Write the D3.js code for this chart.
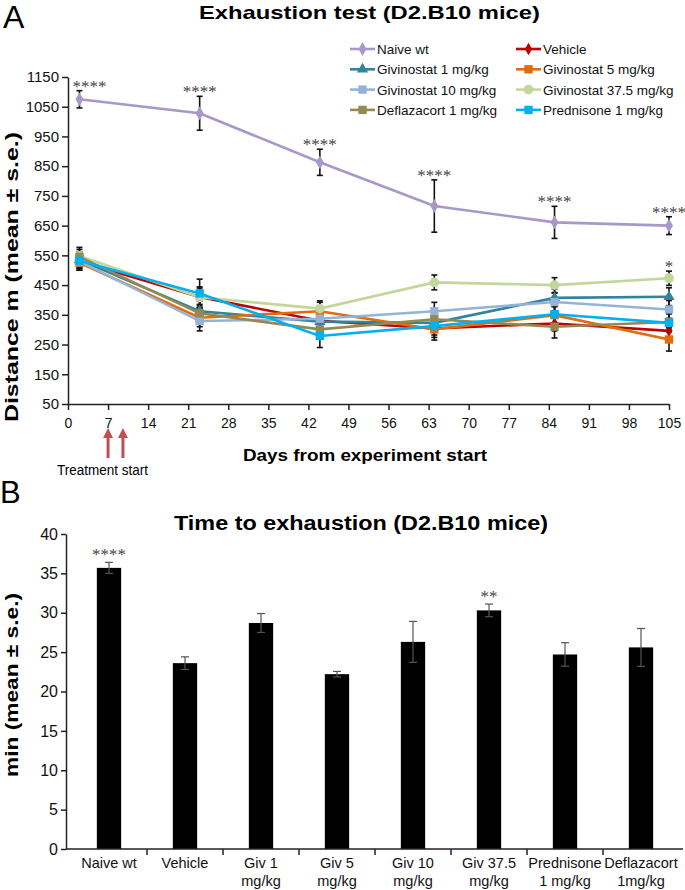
<!DOCTYPE html>
<html>
<head>
<meta charset="utf-8">
<script src="https://cdn.jsdelivr.net/npm/d3@7"></script>
<style>
body{margin:0;background:#fff;}
svg{display:block;font-family:"Liberation Sans",Arial,sans-serif;}
.axis path,.axis line{stroke:#222;stroke-width:1.5;}
.axis text{fill:#111;}
.stars{font-family:"Liberation Serif","Times New Roman",serif;fill:#444;}
</style>
</head>
<body>
<svg id="chart" width="685" height="890"></svg>
<script>
// ---- panel A: exhaustion test distance ----
var days = [2, 23, 44, 64, 85, 105];
var dayTicks = [0, 7, 14, 21, 28, 35, 42, 49, 56, 63, 70, 77, 84, 91, 98, 105];
var distTicks = [50, 150, 250, 350, 450, 550, 650, 750, 850, 950, 1050, 1150];
var treatmentDays = [7, 9.6];

var seriesNames = ['Naive wt', 'Vehicle', 'Givinostat 1 mg/kg', 'Givinostat 5 mg/kg',
    'Givinostat 10 mg/kg', 'Givinostat 37.5 mg/kg', 'Deflazacort 1 mg/kg', 'Prednisone 1 mg/kg'];

var naiveWt      = [1075, 1028, 863, 716, 661, 650];
var naiveWtSe    = [29, 57, 44, 88, 54, 30];
var vehicle      = [530, 410, 330, 304, 321, 296];
var vehicleSe    = [25, 30, 30, 30, 25, 25];
var giv1         = [535, 362, 327, 323, 407, 411];
var giv1Se       = [25, 35, 30, 30, 30, 30];
var giv5         = [525, 340, 362, 301, 349, 267];
var giv5Se       = [25, 30, 30, 36, 30, 39];
var giv10        = [530, 329, 337, 362, 393, 368];
var giv10Se      = [30, 33, 30, 30, 30, 30];
var giv375       = [548, 409, 371, 459, 450, 473];
var giv375Se     = [29, 35, 26, 25, 25, 24];
var deflazacort  = [545, 355, 301, 335, 310, 326];
var deflazacortSe= [25, 30, 30, 30, 38, 30];
var prednisone   = [532, 422, 279, 312, 352, 323];
var prednisoneSe = [25, 48, 39, 30, 30, 30];

var naiveStars = ['****', '****', '****', '****', '****', '****'];
var giv375Stars = ['', '', '', '', '', '*'];

// ---- panel B: time to exhaustion ----
var groupsB = ['Naive wt', 'Vehicle', 'Giv 1|mg/kg', 'Giv 5|mg/kg', 'Giv 10|mg/kg',
    'Giv 37.5|mg/kg', 'Prednisone|1 mg/kg', 'Deflazacort|1mg/kg'];
var timeMean = [35.7, 23.6, 28.7, 22.2, 26.3, 30.3, 24.7, 25.6];
var timeSe   = [0.7, 0.8, 1.2, 0.35, 2.6, 0.8, 1.5, 2.4];
var timeStars = ['****', '', '', '', '', '**', '', ''];
var timeTicks = [0, 5, 10, 15, 20, 25, 30, 35, 40];

// styling
var colors = ['#a898c9', '#c00000', '#31849b', '#e36c09', '#95b3d7', '#c3d69b', '#938953', '#00b0f0'];
var symbols = [d3.symbolDiamond, d3.symbolDiamond, d3.symbolTriangle, d3.symbolSquare,
    d3.symbolSquare, d3.symbolCircle, d3.symbolSquare, d3.symbolSquare];
var symbolSizes = [55, 45, 55, 70, 70, 75, 70, 70];

var valueSets = [naiveWt, vehicle, giv1, giv5, giv10, giv375, deflazacort, prednisone];
var seSets = [naiveWtSe, vehicleSe, giv1Se, giv5Se, giv10Se, giv375Se, deflazacortSe, prednisoneSe];

var series = seriesNames.map(function(name, i){
    return {
        name: name, color: colors[i], symbol: symbols[i], size: symbolSizes[i],
        points: days.map(function(d, j){ return {day: d, v: valueSets[i][j], se: seSets[i][j]}; })
    };
});

var svg = d3.select('#chart');

/* ================= Panel A ================= */
var xA = d3.scaleLinear().domain([0, 105]).range([68, 669]);
var yA = d3.scaleLinear().domain([50, 1150]).range([404, 77]);

svg.append('text').attr('x', 3).attr('y', 28)
    .style('font-size', '32px').text('A');

svg.append('text').attr('x', 199).attr('y', 19)
    .attr('textLength', 341).attr('lengthAdjust', 'spacingAndGlyphs')
    .style('font-size', '19px').style('font-weight', 'bold')
    .text('Exhaustion test (D2.B10 mice)');

var gxA = svg.append('g').attr('class', 'axis')
    .attr('transform', 'translate(0,404)')
    .call(d3.axisBottom(xA).tickValues(dayTicks).tickSize(6).tickSizeOuter(0).tickPadding(8));
gxA.selectAll('text').style('font-size', '14px');

var gyA = svg.append('g').attr('class', 'axis')
    .attr('transform', 'translate(68,0)')
    .call(d3.axisLeft(yA).tickValues(distTicks).tickFormat(d3.format('d'))
        .tickSize(6).tickSizeOuter(0).tickPadding(3));
gyA.selectAll('text').style('font-size', '15px');

svg.append('text')
    .attr('transform', 'translate(18,277) rotate(-90)')
    .attr('text-anchor', 'middle')
    .attr('textLength', 290).attr('lengthAdjust', 'spacingAndGlyphs')
    .style('font-size', '18px').style('font-weight', 'bold')
    .text('Distance m (mean \u00b1 s.e.)');

svg.append('text').attr('x', 365).attr('y', 461)
    .attr('text-anchor', 'middle')
    .attr('textLength', 244).attr('lengthAdjust', 'spacingAndGlyphs')
    .style('font-size', '16px').style('font-weight', 'bold')
    .text('Days from experiment start');

// treatment arrows
var arrows = svg.append('g').selectAll('g')
    .data(treatmentDays).enter().append('g')
    .attr('transform', function(d){ return 'translate(' + xA(d) + ',0)'; });
arrows.append('line').attr('x1', 0).attr('x2', 0).attr('y1', 436).attr('y2', 458)
    .attr('stroke', '#c0504d').attr('stroke-width', 3);
arrows.append('path').attr('d', 'M0,428 L5,438 L-5,438 Z').attr('fill', '#c0504d');

svg.append('text').attr('x', 57).attr('y', 475)
    .attr('textLength', 91).attr('lengthAdjust', 'spacingAndGlyphs')
    .style('font-size', '14px').text('Treatment start');

// error bars (behind lines)
var errG = svg.append('g');
series.forEach(function(s){
    var eb = errG.selectAll(null).data(s.points).enter().append('g')
        .attr('stroke', '#111').attr('stroke-width', 1.6);
    eb.append('line')
        .attr('x1', function(d){ return xA(d.day); }).attr('x2', function(d){ return xA(d.day); })
        .attr('y1', function(d){ return yA(d.v + d.se); }).attr('y2', function(d){ return yA(d.v - d.se); });
    eb.append('line')
        .attr('x1', function(d){ return xA(d.day) - 3; }).attr('x2', function(d){ return xA(d.day) + 3; })
        .attr('y1', function(d){ return yA(d.v + d.se); }).attr('y2', function(d){ return yA(d.v + d.se); });
    eb.append('line')
        .attr('x1', function(d){ return xA(d.day) - 3; }).attr('x2', function(d){ return xA(d.day) + 3; })
        .attr('y1', function(d){ return yA(d.v - d.se); }).attr('y2', function(d){ return yA(d.v - d.se); });
});

var line = d3.line()
    .x(function(d){ return xA(d.day); })
    .y(function(d){ return yA(d.v); });

var seriesG = svg.append('g').selectAll('g')
    .data(series).enter().append('g');

seriesG.append('path')
    .attr('d', function(s){ return line(s.points); })
    .attr('fill', 'none')
    .attr('stroke', function(s){ return s.color; })
    .attr('stroke-width', 2.6);

seriesG.each(function(s){
    d3.select(this).selectAll('path.marker')
        .data(s.points).enter().append('path')
        .attr('class', 'marker')
        .attr('transform', function(d){ return 'translate(' + xA(d.day) + ',' + yA(d.v) + ')'; })
        .attr('d', d3.symbol().type(s.symbol).size(s.size))
        .attr('fill', s.color);
});

// significance stars
function starText(vals, ses, stars){
    svg.append('g').selectAll('text')
        .data(stars).enter().append('text')
        .attr('class', 'stars')
        .attr('x', function(d, i){ return xA(days[i]) + (i === 0 ? 10 : 0); })
        .attr('y', function(d, i){ return yA(vals[i] + ses[i]) + 1; })
        .attr('text-anchor', 'middle')
        .style('font-size', '17px')
        .text(function(d){ return d; });
}
starText(naiveWt, naiveWtSe, naiveStars);
starText(giv375, giv375Se, giv375Stars);

// legend
var legend = svg.append('g').selectAll('g')
    .data(series).enter().append('g')
    .attr('transform', function(d, i){
        return 'translate(' + (i % 2 === 0 ? 350 : 516) + ',' + (49 + Math.floor(i / 2) * 20.3) + ')';
    });
legend.append('line').attr('x1', 0).attr('x2', 25)
    .attr('stroke', function(d){ return d.color; }).attr('stroke-width', 2.6);
legend.append('path')
    .attr('transform', 'translate(12.5,0)')
    .attr('d', function(d){ return d3.symbol().type(d.symbol).size(d.size)(); })
    .attr('fill', function(d){ return d.color; });
legend.append('text').attr('x', 27).attr('y', 5)
    .style('font-size', '13.5px').style('fill', '#111')
    .text(function(d){ return d.name; });

/* ================= Panel B ================= */
var xB = d3.scaleBand().domain(groupsB).range([71, 679]).paddingInner(0.68).paddingOuter(0.34);
var yB = d3.scaleLinear().domain([0, 40]).range([849, 534]);

svg.append('text').attr('x', 0).attr('y', 503)
    .style('font-size', '31px').text('B');

svg.append('text').attr('x', 174).attr('y', 530)
    .attr('textLength', 374).attr('lengthAdjust', 'spacingAndGlyphs')
    .style('font-size', '20px').style('font-weight', 'bold')
    .text('Time to exhaustion (D2.B10 mice)');

svg.append('text')
    .attr('transform', 'translate(18,685) rotate(-90)')
    .attr('text-anchor', 'middle')
    .attr('textLength', 184).attr('lengthAdjust', 'spacingAndGlyphs')
    .style('font-size', '18px').style('font-weight', 'bold')
    .text('min (mean \u00b1 s.e.)');

var gyB = svg.append('g').attr('class', 'axis')
    .attr('transform', 'translate(66,0)')
    .call(d3.axisLeft(yB).tickValues(timeTicks).tickSize(5).tickSizeOuter(0).tickPadding(3));
gyB.selectAll('text').style('font-size', '16px');

var bars = svg.append('g').selectAll('g')
    .data(groupsB).enter().append('g');

bars.append('rect')
    .attr('x', function(d){ return xB(d); })
    .attr('y', function(d, i){ return yB(timeMean[i]); })
    .attr('width', xB.bandwidth())
    .attr('height', function(d, i){ return yB(0) - yB(timeMean[i]); })
    .attr('fill', '#000');

var ebB = bars.append('g').attr('stroke', '#555').attr('stroke-width', 1.2);
ebB.append('line')
    .attr('x1', function(d){ return xB(d) + xB.bandwidth() / 2; })
    .attr('x2', function(d){ return xB(d) + xB.bandwidth() / 2; })
    .attr('y1', function(d, i){ return yB(timeMean[i] + timeSe[i]); })
    .attr('y2', function(d, i){ return yB(timeMean[i] - timeSe[i]); });
[1, -1].forEach(function(sign){
    ebB.append('line')
        .attr('x1', function(d){ return xB(d) + xB.bandwidth() / 2 - 4; })
        .attr('x2', function(d){ return xB(d) + xB.bandwidth() / 2 + 4; })
        .attr('y1', function(d, i){ return yB(timeMean[i] + sign * timeSe[i]); })
        .attr('y2', function(d, i){ return yB(timeMean[i] + sign * timeSe[i]); });
});

bars.append('text')
    .attr('class', 'stars')
    .attr('x', function(d){ return xB(d) + xB.bandwidth() / 2; })
    .attr('y', function(d, i){ return yB(timeMean[i] + timeSe[i]) - 2; })
    .attr('text-anchor', 'middle')
    .style('font-size', '17px')
    .text(function(d, i){ return timeStars[i]; });

// x axis of panel B
var axB = svg.append('g').attr('class', 'axis');
axB.append('line').attr('x1', 66).attr('x2', 683).attr('y1', 849).attr('y2', 849);
axB.selectAll('line.sep')
    .data(groupsB.slice(0, -1)).enter().append('line')
    .attr('class', 'sep')
    .attr('x1', function(d){ return xB(d) + xB.bandwidth() / 2 + xB.step() / 2; })
    .attr('x2', function(d){ return xB(d) + xB.bandwidth() / 2 + xB.step() / 2; })
    .attr('y1', 849).attr('y2', 855);

var lblB = svg.append('g').selectAll('text')
    .data(groupsB).enter().append('text')
    .attr('x', function(d){ return xB(d) + xB.bandwidth() / 2; })
    .attr('text-anchor', 'middle')
    .style('font-size', '14.5px').style('fill', '#111');
lblB.selectAll('tspan')
    .data(function(d){ return d.split('|').map(function(t){ return {t: t, x: xB(d) + xB.bandwidth() / 2}; }); })
    .enter().append('tspan')
    .attr('x', function(d){ return d.x; })
    .attr('y', function(d, i){ return 868 + i * 18; })
    .text(function(d){ return d.t; });
</script>
</body>
</html>
